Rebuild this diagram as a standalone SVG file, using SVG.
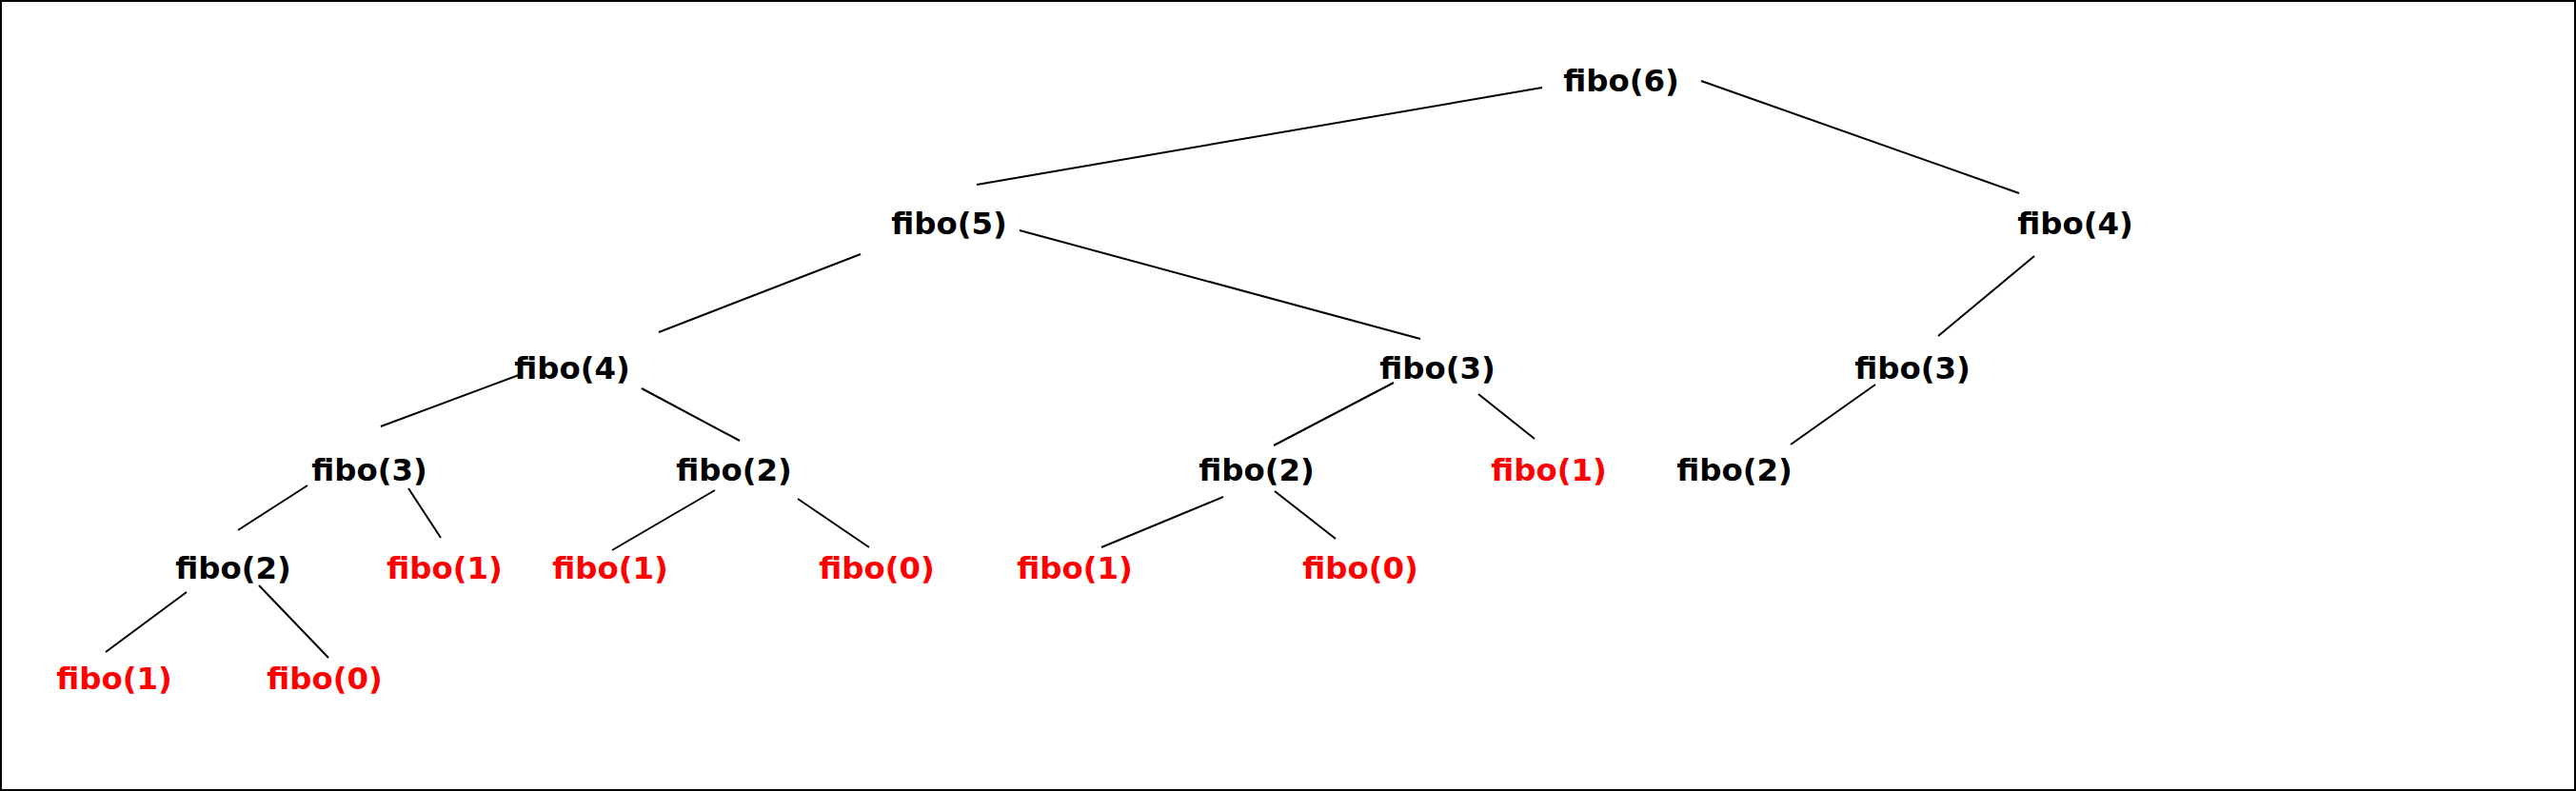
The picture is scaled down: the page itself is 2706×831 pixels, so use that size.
<svg xmlns="http://www.w3.org/2000/svg" width="2706" height="831" viewBox="0 0 2706 831">
<style>
text{font-family:"DejaVu Sans","Liberation Sans",sans-serif;font-weight:bold;font-size:32.4px;text-anchor:middle}
.n{fill:#000}
.l{fill:#ff0000}
#edges line{stroke:#000;stroke-width:2}
</style>
<rect x="1" y="1" width="2704" height="829" fill="#fff" stroke="#000" stroke-width="2"/>
<g id="edges">
<line x1="1620" y1="92" x2="1026" y2="194"/>
<line x1="1787" y1="85" x2="2121" y2="203"/>
<line x1="904" y1="267" x2="692" y2="349"/>
<line x1="1071" y1="242" x2="1492" y2="356"/>
<line x1="2137" y1="269" x2="2036" y2="353"/>
<line x1="545" y1="394" x2="400" y2="448"/>
<line x1="674" y1="408" x2="777" y2="463"/>
<line x1="1464" y1="402" x2="1338" y2="468"/>
<line x1="1553" y1="414" x2="1612" y2="461"/>
<line x1="1970" y1="404" x2="1881" y2="467"/>
<line x1="323" y1="510" x2="250" y2="557"/>
<line x1="429" y1="513" x2="463" y2="565"/>
<line x1="751" y1="515" x2="643" y2="578"/>
<line x1="838" y1="524" x2="913" y2="575"/>
<line x1="1285" y1="522" x2="1157" y2="575"/>
<line x1="1339" y1="516" x2="1403" y2="566"/>
<line x1="196" y1="622" x2="111" y2="685"/>
<line x1="272" y1="615" x2="345" y2="691"/>
</g>
<g id="n6"><text class="n" x="1703" y="96">fibo(6)</text></g>
<g id="n5"><text class="n" x="997" y="246">fibo(5)</text></g>
<g id="n4r"><text class="n" x="2180" y="246">fibo(4)</text></g>
<g id="n4l"><text class="n" x="601" y="398">fibo(4)</text></g>
<g id="n3m"><text class="n" x="1510" y="398">fibo(3)</text></g>
<g id="n3r"><text class="n" x="2009" y="398">fibo(3)</text></g>
<g id="n3l"><text class="n" x="388" y="505">fibo(3)</text></g>
<g id="n2a"><text class="n" x="771" y="505">fibo(2)</text></g>
<g id="n2m"><text class="n" x="1320" y="505">fibo(2)</text></g>
<g id="n1a"><text class="l" x="1627" y="505">fibo(1)</text></g>
<g id="n2r"><text class="n" x="1822" y="505">fibo(2)</text></g>
<g id="n2ll"><text class="n" x="245" y="608">fibo(2)</text></g>
<g id="n1b"><text class="l" x="467" y="608">fibo(1)</text></g>
<g id="n1c"><text class="l" x="641" y="608">fibo(1)</text></g>
<g id="n0a"><text class="l" x="921" y="608">fibo(0)</text></g>
<g id="n1d"><text class="l" x="1129" y="608">fibo(1)</text></g>
<g id="n0b"><text class="l" x="1429" y="608">fibo(0)</text></g>
<g id="n1e"><text class="l" x="120" y="724">fibo(1)</text></g>
<g id="n0c"><text class="l" x="341" y="724">fibo(0)</text></g>
</svg>
